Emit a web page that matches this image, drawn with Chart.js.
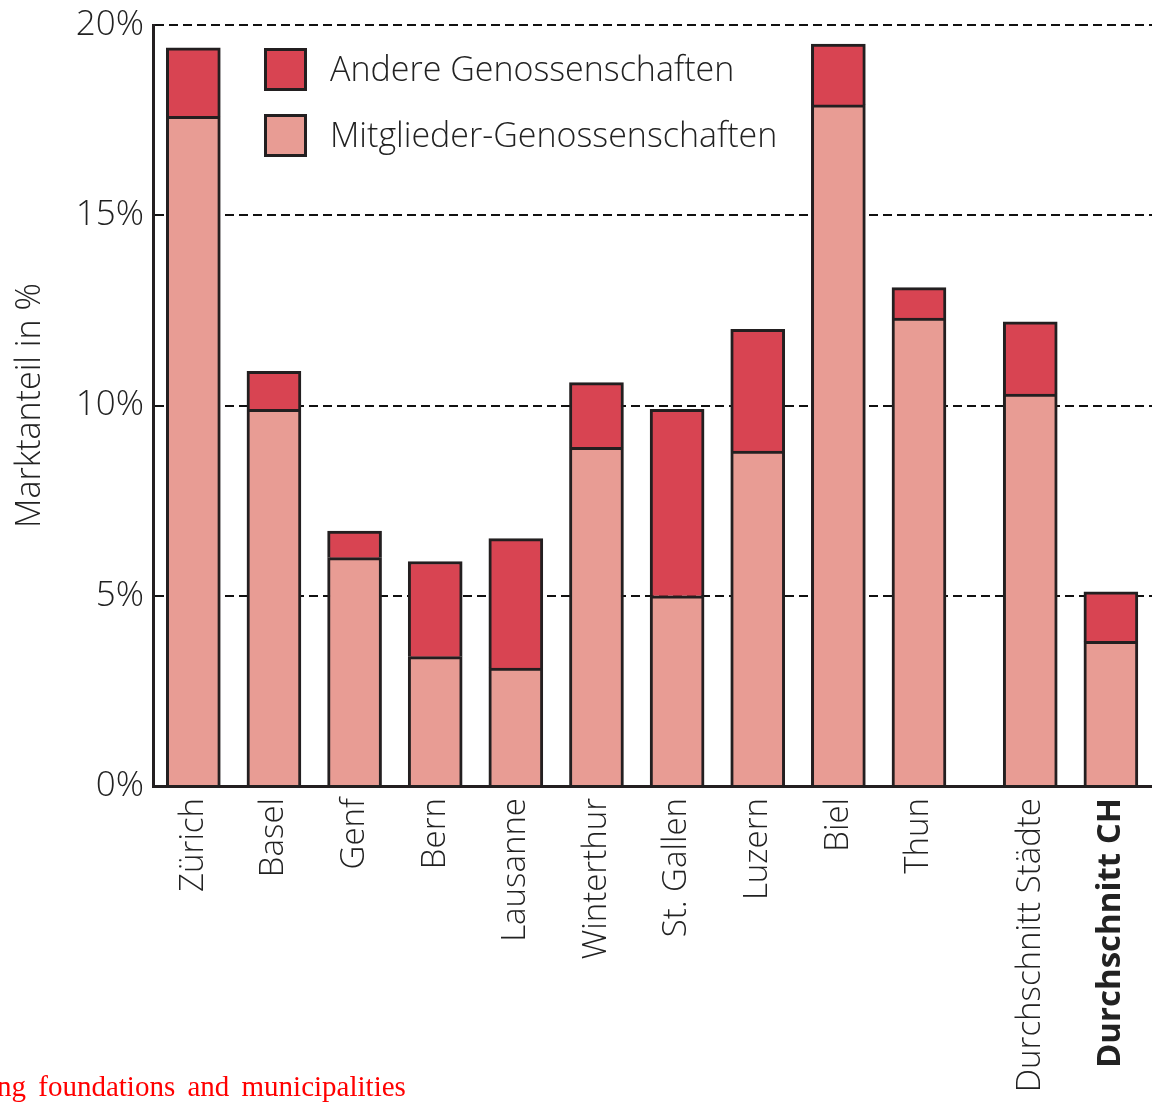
<!DOCTYPE html>
<html>
<head>
<meta charset="utf-8">
<script src="https://cdn.jsdelivr.net/npm/chart.js@4"></script>
<style>
  html, body { margin: 0; padding: 0; background: #fff; }
  #wrap { position: relative; width: 1152px; height: 1110px; overflow: hidden; }
  #note {
    position: absolute; left: -3px; top: 1070px;
    font-family: "Liberation Serif", serif; font-size: 29px; color: #ff0000;
    word-spacing: 5px; white-space: nowrap;
  }
</style>
</head>
<body>
<div id="wrap">
  <canvas id="myChart" width="1152" height="1110"></canvas>
  <div id="note">ng foundations and municipalities</div>
</div>
<script>
let cities = ["Zürich", "Basel", "Genf", "Bern", "Lausanne", "Winterthur", "St. Gallen",
  "Luzern", "Biel", "Thun", "Durchschnitt Städte", "Durchschnitt CH"];
let mitglieder = [17.6, 9.9, 6.0, 3.4, 3.1, 8.9, 5.0, 8.8, 17.9, 12.3, 10.3, 3.8];
let andere = [1.8, 1.0, 0.7, 2.5, 3.4, 1.7, 4.9, 3.2, 1.6, 0.8, 1.9, 1.3];
let yTicks = [0, 5, 10, 15, 20];

// the two averages sit a bit apart from the cities
let gapAfter = 10;
let gapSize = 0.38;
function slot(i) {
  return i >= gapAfter ? i + gapSize : i;
}

const dark = "#d84452";
const light = "#e89c94";
const edge = "#231f20";
const font = "'Open Sans', 'DejaVu Sans', sans-serif";

let legendBoxes = {
  id: "legendBoxes",
  afterDraw(chart) {
    const ctx = chart.ctx;
    const items = [chart.data.datasets[1], chart.data.datasets[0]];
    ctx.save();
    items.forEach((ds, i) => {
      const y = 48 + i * 66;
      ctx.fillStyle = ds.backgroundColor;
      ctx.fillRect(264, y, 43, 43);
      ctx.strokeStyle = edge;
      ctx.lineWidth = 3;
      ctx.strokeRect(265.5, y + 1.5, 40, 40);
      ctx.fillStyle = "#222";
      ctx.font = "300 34px " + font;
      ctx.textBaseline = "middle";
      ctx.fillText(ds.label, 330, y + 23);
    });
    ctx.restore();
  }
};

const ctx = document.getElementById("myChart");
new Chart(ctx, {
  type: "bar",
  data: {
    datasets: [
      {
        label: "Mitglieder-Genossenschaften",
        data: mitglieder.map((v, i) => ({ x: slot(i), y: v })),
        backgroundColor: light,
        borderColor: edge,
        borderWidth: 3,
        barThickness: 54
      },
      {
        label: "Andere Genossenschaften",
        data: andere.map((v, i) => ({ x: slot(i), y: v })),
        backgroundColor: dark,
        borderColor: edge,
        borderWidth: 3,
        barThickness: 54
      }
    ]
  },
  options: {
    responsive: false,
    animation: false,
    layout: { padding: { top: 25, right: 0, left: 0, bottom: 0 } },
    plugins: {
      legend: { display: false },
      tooltip: { enabled: false }
    },
    scales: {
      x: {
        type: "linear",
        stacked: true,
        offset: false,
        min: -0.5,
        max: 11.89,
        grid: { display: false, drawTicks: false },
        border: { display: true, color: edge, width: 3 },
        afterBuildTicks: (scale) => {
          scale.ticks = cities.map((c, i) => ({ value: slot(i) }));
        },
        afterFit: (scale) => {
          scale.height = 324;
          scale.paddingLeft = 0;
          scale.paddingRight = 0;
        },
        ticks: {
          autoSkip: false,
          minRotation: 90,
          maxRotation: 90,
          padding: 12,
          color: "#222",
          font: (c) => ({
            family: font,
            size: 33,
            weight: c.index === cities.length - 1 ? "bold" : "300"
          }),
          callback: (value, index) => cities[index]
        }
      },
      y: {
        stacked: true,
        min: 0,
        max: 20,
        afterBuildTicks: (scale) => {
          scale.ticks = yTicks.map((v) => ({ value: v }));
        },
        afterFit: (scale) => {
          scale.width = 153;
          scale.paddingTop = 0;
          scale.paddingBottom = 0;
        },
        grid: {
          color: (c) => (c.tick.value === 0 ? "rgba(0,0,0,0)" : "#111"),
          lineWidth: 2,
          drawTicks: false
        },
        border: { display: true, color: edge, width: 3, dash: [9, 5] },
        ticks: {
          padding: 9,
          color: "#222",
          font: { family: font, size: 35, weight: "300" },
          callback: (v) => v + "%"
        },
        title: {
          display: true,
          text: "Marktanteil in %",
          color: "#222",
          font: { family: font, size: 34, weight: "300" },
          padding: { top: 10, bottom: 0 }
        }
      }
    }
  },
  plugins: [legendBoxes]
});
</script>
</body>
</html>
